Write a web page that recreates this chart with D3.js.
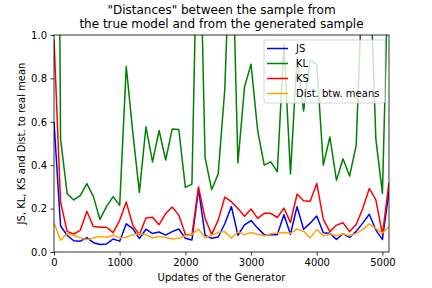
<!DOCTYPE html>
<html>
<head>
<meta charset="utf-8">
<script src="https://cdn.jsdelivr.net/npm/d3@7"></script>
<style>
  body { margin: 0; background: #fff; }
  svg { display: block; font-family: "DejaVu Sans", sans-serif; }
</style>
</head>
<body>
<svg id="chart" width="432" height="288"></svg>
<script>
// Updates of the generator (every 100 steps)
const updates = d3.range(0, 5101, 100);

const jsValues = [0.6, 0.12, 0.077, 0.052, 0.05, 0.066, 0.043, 0.035, 0.037, 0.06,
    0.05, 0.13, 0.108, 0.062, 0.105, 0.085, 0.092, 0.078, 0.094, 0.106,
    0.063, 0.055, 0.29, 0.078, 0.063, 0.069, 0.13, 0.21, 0.077, 0.125,
    0.145, 0.11, 0.08, 0.08, 0.08, 0.172, 0.082, 0.209, 0.105, 0.133,
    0.166, 0.089, 0.086, 0.058, 0.084, 0.067, 0.095, 0.133, 0.174, 0.101,
    0.058, 0.28];

const klValues = [5, 0.52, 0.27, 0.24, 0.26, 0.315, 0.255, 0.15, 0.21, 0.255,
    0.215, 0.855, 0.55, 0.275, 0.577, 0.415, 0.56, 0.424, 0.567, 0.564,
    0.298, 0.313, 1.8, 0.435, 0.287, 0.36, 0.75, 1.6, 0.41, 0.76,
    0.865, 0.56, 0.4, 0.415, 0.37, 0.96, 0.36, 0.9, 0.65, 0.885,
    0.865, 0.4, 0.53, 0.33, 0.43, 0.35, 0.49, 1.3, 1.4, 0.52,
    0.27, 1.45];

const ksValues = [0.98, 0.23, 0.095, 0.083, 0.1, 0.188, 0.117, 0.114, 0.114, 0.089,
    0.146, 0.23, 0.123, 0.08, 0.157, 0.16, 0.126, 0.177, 0.207, 0.17,
    0.081, 0.078, 0.3, 0.155, 0.081, 0.147, 0.253, 0.232, 0.2, 0.165,
    0.198, 0.155, 0.178, 0.178, 0.159, 0.202, 0.136, 0.267, 0.236, 0.234,
    0.316, 0.15, 0.094, 0.124, 0.135, 0.094, 0.127, 0.2, 0.293, 0.24,
    0.08, 0.32];

const meanValues = [0.135, 0.054, 0.085, 0.077, 0.065, 0.057, 0.065, 0.072, 0.068, 0.077,
    0.065, 0.068, 0.08, 0.085, 0.08, 0.065, 0.072, 0.067, 0.06, 0.063,
    0.075, 0.081, 0.106, 0.066, 0.078, 0.09, 0.094, 0.063, 0.092, 0.08,
    0.09, 0.082, 0.075, 0.084, 0.088, 0.09, 0.086, 0.106, 0.096, 0.065,
    0.103, 0.075, 0.083, 0.075, 0.083, 0.075, 0.086, 0.103, 0.13, 0.109,
    0.086, 0.117];

const seriesNames = ["JS", "KL", "KS", "Dist. btw. means"];
const seriesColors = ["#0000ff", "#008000", "#ff0000", "#ffa500"];
const xTicks = [0, 1000, 2000, 3000, 4000, 5000];
const yTicks = [0, 0.2, 0.4, 0.6, 0.8, 1.0];

const series = [jsValues, klValues, ksValues, meanValues].map((vals, i) => ({
    name: seriesNames[i],
    color: seriesColors[i],
    points: vals.map((v, j) => ({ x: updates[j], y: v }))
}));

const width = 432;
const height = 288;
const margin = { top: 35, right: 43, bottom: 36, left: 54 };

const svg = d3.select("#chart");

const x = d3.scaleLinear().domain([0, 5100]).range([margin.left, width - margin.right]);
const y = d3.scaleLinear().domain([0, 1]).range([height - margin.bottom, margin.top]);

// clip the lines to the axes box
svg.append("clipPath")
    .attr("id", "plot-clip")
    .append("rect")
    .attr("x", margin.left)
    .attr("y", margin.top)
    .attr("width", width - margin.left - margin.right)
    .attr("height", height - margin.top - margin.bottom);

const line = d3.line()
    .x(d => x(d.x))
    .y(d => y(d.y));

svg.append("g")
    .attr("clip-path", "url(#plot-clip)")
    .selectAll("path")
    .data(series)
    .join("path")
    .attr("fill", "none")
    .attr("stroke", d => d.color)
    .attr("stroke-width", 1.5)
    .attr("stroke-linejoin", "round")
    .attr("d", d => line(d.points));

// Axes
const xAxis = svg.append("g")
    .attr("transform", `translate(0,${height - margin.bottom})`)
    .call(d3.axisBottom(x).tickValues(xTicks).tickFormat(d3.format("d")).tickSize(3.5).tickPadding(3.5));

const yAxis = svg.append("g")
    .attr("transform", `translate(${margin.left},0)`)
    .call(d3.axisLeft(y).tickValues(yTicks).tickFormat(d3.format(".1f")).tickSize(3.5).tickPadding(3.5));

[xAxis, yAxis].forEach(g => {
    g.select(".domain").remove();
    g.selectAll("text").attr("font-size", 10).attr("fill", "#000").attr("font-family", "DejaVu Sans, sans-serif");
    g.selectAll("line").attr("stroke", "#000").attr("stroke-width", 0.8);
});

// frame
svg.append("rect")
    .attr("x", margin.left)
    .attr("y", margin.top)
    .attr("width", width - margin.left - margin.right)
    .attr("height", height - margin.top - margin.bottom)
    .attr("fill", "none")
    .attr("stroke", "#000")
    .attr("stroke-width", 0.8);

// Title
const titleLines = ["\"Distances\" between the sample from", "the true model and from the generated sample"];
svg.append("g")
    .selectAll("text")
    .data(titleLines)
    .join("text")
    .attr("x", (margin.left + width - margin.right) / 2)
    .attr("y", (d, i) => 14 + i * 14)
    .attr("text-anchor", "middle")
    .attr("font-size", 12)
    .text(d => d);

// Axis labels
svg.append("text")
    .attr("x", (margin.left + width - margin.right) / 2)
    .attr("y", 281)
    .attr("text-anchor", "middle")
    .attr("font-size", 10)
    .text("Updates of the Generator");

svg.append("text")
    .attr("transform", `translate(25,${(margin.top + height - margin.bottom) / 2}) rotate(-90)`)
    .attr("text-anchor", "middle")
    .attr("font-size", 10)
    .text("JS, KL, KS and Dist. to real mean");

// Legend
const legend = svg.append("g").attr("transform", "translate(264,40)");
legend.append("rect")
    .attr("width", 121)
    .attr("height", 63)
    .attr("rx", 2)
    .attr("fill", "#fff")
    .attr("fill-opacity", 0.8)
    .attr("stroke", "#ccc")
    .attr("stroke-width", 0.8);

const items = legend.selectAll("g.item")
    .data(series)
    .join("g")
    .attr("class", "item")
    .attr("transform", (d, i) => `translate(0,${8.5 + i * 15})`);

items.append("line")
    .attr("x1", 3).attr("x2", 24)
    .attr("stroke", d => d.color)
    .attr("stroke-width", 1.5);

items.append("text")
    .attr("x", 32)
    .attr("dy", "0.35em")
    .attr("font-size", 10)
    .text(d => d.name);
</script>
</body>
</html>
